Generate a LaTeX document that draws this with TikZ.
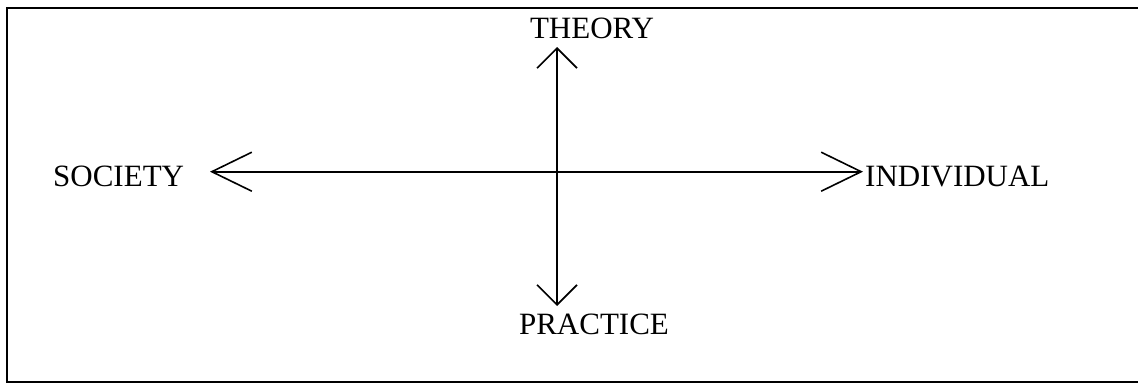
\documentclass[tikz,border=0pt]{standalone}
\usepackage{fontspec}
\setmainfont{Liberation Serif}
\usetikzlibrary{arrows.meta}
\begin{document}
\begin{tikzpicture}[x=1pt,y=-1pt,
  lbl/.style={inner sep=0pt,font=\fontsize{31}{37}\selectfont},
  axis/.style={line width=1.6pt},
  vtip/.style={-{Straight Barb[length=20pt,width=40pt,line width=1.6pt]}},
  htip/.style={-{Straight Barb[length=40pt,width=39pt,line width=1.6pt]}},
  frame/.style={line width=2.3pt}]
\useasboundingbox (0,0) rectangle (1138,383);
\clip (0,0) rectangle (1138,383);
\draw[frame] (7,7.8) rectangle (1150,382);
\node[lbl,anchor=base] (theory) at (592,38.3) {THEORY};
\node[lbl,anchor=base] (practice) at (594,334) {PRACTICE};
\node[lbl,anchor=base west] (society) at (53,186.7) {SOCIETY};
\node[lbl,anchor=base west] (individual) at (865,186.7) {INDIVIDUAL};
\coordinate (c) at (557,171.7);
\coordinate (top) at (557,47);
\coordinate (bot) at (557,306);
\coordinate (left) at (210,171.7);
\coordinate (right) at (863,171.7);
\draw[axis,vtip] (c) -- (top);
\draw[axis,vtip] (c) -- (bot);
\draw[axis,htip] (c) -- (left);
\draw[axis,htip] (c) -- (right);
\end{tikzpicture}
\end{document}
